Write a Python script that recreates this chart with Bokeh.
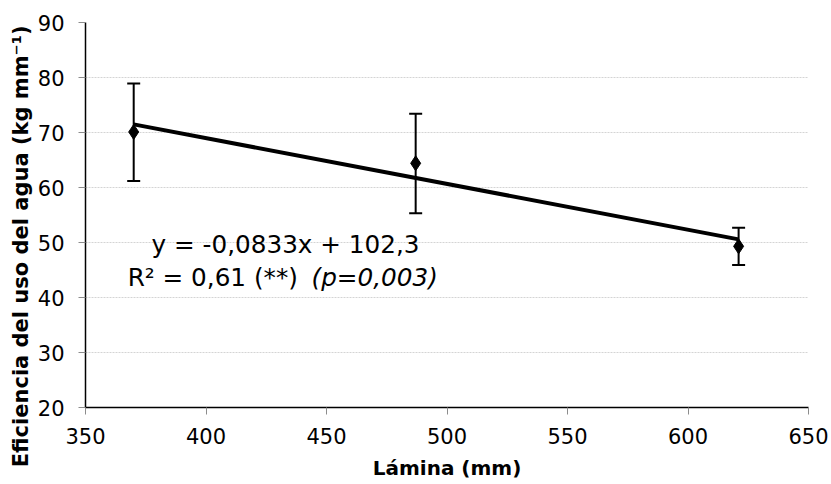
from bokeh.plotting import figure
from bokeh.models import ColumnDataSource, Whisker, TeeHead, Label, FixedTicker, Title
from bokeh.embed import file_html
from bokeh.resources import INLINE

# Data
lamina = [370, 487, 621]
eficiencia = [70.1, 64.4, 49.3]
err_upper = [78.9, 73.4, 52.7]
err_lower = [61.2, 55.3, 45.9]

slope = -0.0833
intercept = 102.3
eq_text = "y = -0,0833x + 102,3"
r2_text = "R\u00b2 = 0,61 (**) "
p_text = "(p=0,003)"

x_ticks = [350, 400, 450, 500, 550, 600, 650]
y_ticks = [20, 30, 40, 50, 60, 70, 80, 90]

x_title = "L\u00e1mina (mm)"
y_title = "Eficiencia del uso del agua (kg mm\u207b\u00b9)"

FONT = "DejaVu Sans"

p = figure(width=829, height=482, x_range=(350, 650), y_range=(20, 90),
           output_backend="svg", toolbar_location=None,
           min_border_left=85, min_border_right=21,
           min_border_top=22, min_border_bottom=69)
p.outline_line_color = None
p.background_fill_color = "white"
p.border_fill_color = "white"

# grid
p.xgrid.grid_line_color = None
p.ygrid.grid_line_color = "#d4d4d4"
p.ygrid.grid_line_dash = "2 1"
p.ygrid.grid_line_width = 1

for ax in (p.xaxis, p.yaxis):
    ax.axis_line_color = "black"
    ax.axis_line_width = 1.5
    ax.major_tick_line_color = "#8c8c8c"
    ax.major_tick_in = 0
    ax.major_tick_out = 7
    ax.minor_tick_line_color = None
    ax.major_label_text_font = FONT
    ax.major_label_text_font_size = "21px"
    ax.major_label_text_color = "black"
    ax.axis_label_text_font = FONT
    ax.axis_label_text_font_style = "bold"
    ax.axis_label_text_font_size = "20px"
    ax.axis_label_text_color = "black"

p.xaxis.ticker = FixedTicker(ticks=x_ticks)
p.yaxis.ticker = FixedTicker(ticks=y_ticks)
p.xaxis.major_label_standoff = 13
p.yaxis.major_label_standoff = 14
p.xaxis.axis_label = x_title
p.xaxis.axis_label_standoff = 9

# y-axis title, placed like the reference (not centred on the frame)
yt = Title(text=y_title, align="right", offset=3, standoff=4,
           text_font=FONT, text_font_size="21px", text_font_style="bold",
           text_color="black")
p.add_layout(yt, "left")

# trend line over data range
x0, x1 = min(lamina), max(lamina)
p.line([x0, x1], [slope * x0 + intercept, slope * x1 + intercept],
       line_color="black", line_width=4)

# error bars
src = ColumnDataSource(dict(x=lamina, y=eficiencia, upper=err_upper, lower=err_lower))
w = Whisker(source=src, base="x", upper="upper", lower="lower", dimension="height",
            line_color="black", line_width=2,
            upper_head=TeeHead(size=13, line_color="black", line_width=2),
            lower_head=TeeHead(size=13, line_color="black", line_width=2))
p.add_layout(w)

p.scatter("x", "y", source=src, marker="diamond", size=15,
          fill_color="black", line_color="black")

# equation annotation
p.add_layout(Label(x=433, y=49.6, text=eq_text, text_align="center",
                   text_baseline="middle", text_font=FONT, text_font_size="24.7px",
                   text_color="black"))
p.add_layout(Label(x=367.5, y=43.7, text=r2_text, text_align="left",
                   text_baseline="middle", text_font=FONT, text_font_size="24.7px",
                   text_color="black"))
p.add_layout(Label(x=443.8, y=43.7, text=p_text, text_align="left",
                   text_baseline="middle", text_font=FONT, text_font_size="24.7px",
                   text_font_style="italic", text_color="black"))

open("out.html", "w").write(file_html(p, INLINE))
